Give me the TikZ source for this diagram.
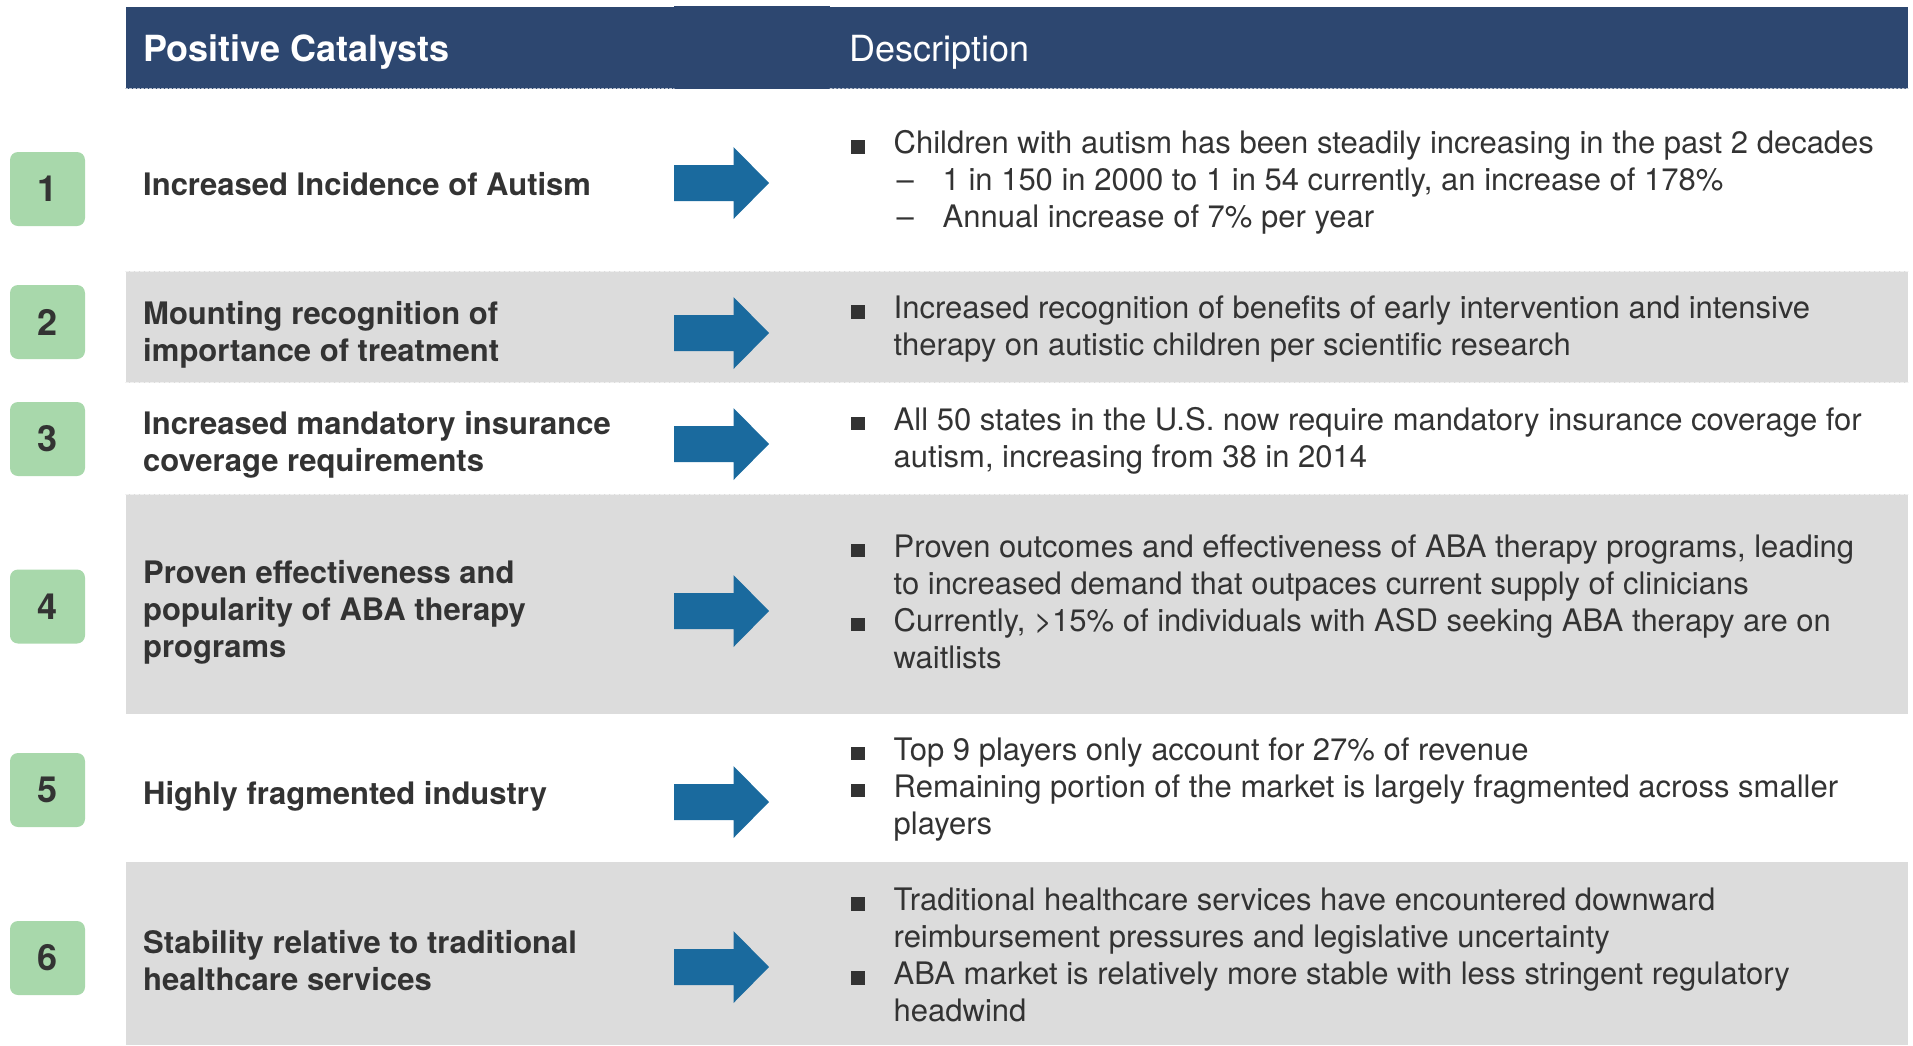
\documentclass[tikz,border=0pt]{standalone}
\usepackage{fontspec}
\setmainfont{TeX Gyre Heros}
\definecolor{navy}{HTML}{2D4770}
\definecolor{arrowblue}{HTML}{1A6A9E}
\definecolor{numgreen}{HTML}{A8D8AB}
\definecolor{rowgray}{HTML}{DCDCDC}
\definecolor{ink}{HTML}{333333}
\newcommand{\bul}{\makebox[43pt][l]{\rule{14pt}{13.5pt}}}
\newcommand{\subdash}{\hspace*{46pt}\makebox[46pt][l]{--}}
\newcommand{\cont}{\hspace*{43pt}}
\begin{document}
\begin{tikzpicture}[x=1pt,y=-1pt,line join=round,line cap=round,
	numbox/.style={fill=numgreen,rounded corners=8pt,minimum width=75pt,minimum height=74pt,inner sep=0pt,text=ink,font=\fontsize{36}{40}\selectfont\bfseries},
	catlabel/.style={anchor=base west,inner sep=0pt,align=left,text=ink,font=\fontsize{31}{37}\selectfont\bfseries},
	desctext/.style={anchor=base west,inner sep=0pt,align=left,text=ink,font=\fontsize{31}{37}\selectfont}]
	\def\L{125.5}
	\def\R{1908}
	\useasboundingbox (0,0) rectangle (1913,1045);
	%Vẽ tiêu đề
	\fill[navy] (\L,7) rectangle (\R,89);
	\fill[navy] (674,5.5) rectangle (830,89);
	\draw[white!70!navy,dash pattern=on 2pt off 2pt,line width=1pt] (\L,88.5)--(674,88.5) (830,88.5)--(\R,88.5);
	\node[anchor=base west,inner sep=0pt,text=white,font=\fontsize{36}{40}\selectfont\bfseries] (hcat) at (143,61) {Positive Catalysts};
	\node[anchor=base west,inner sep=0pt,text=white,font=\fontsize{36}{40}\selectfont] (hdesc) at (849,61) {Description};
	%Vẽ các hàng xám
	\fill[rowgray] (\L,271) rectangle (\R,382.5);
	\fill[rowgray] (\L,494) rectangle (\R,713.5);
	\fill[rowgray] (\L,862) rectangle (\R,1045);
	\foreach \y in {271,382.5,494}
	\draw[white!60!rowgray,dash pattern=on 3pt off 2pt,line width=1pt] (\L,\y)--(\R,\y);
	%Vẽ các số
	\foreach \n/\y in {1/189,2/322,3/439,4/606.5,5/790,6/958}
	\node[numbox] (num\n) at (47.5,\y) {\n};
	%Vẽ các mũi tên
	\foreach \y in {183,333,444,611,802,967}
	\fill[arrowblue] (674,\y-18) -- (733.5,\y-18) -- (733.5,\y-36) -- (769,\y) -- (733.5,\y+36) -- (733.5,\y+18) -- (674,\y+18) -- cycle;
	%Các yếu tố (base = dòng cuối)
	\node[catlabel] (cat1) at (143,195) {Increased Incidence of Autism};
	\node[catlabel] (cat2) at (143,361) {Mounting recognition of\\importance of treatment};
	\node[catlabel] (cat3) at (143,471.5) {Increased mandatory insurance\\coverage requirements};
	\node[catlabel] (cat4) at (143,657) {Proven effectiveness and\\popularity of ABA therapy\\programs};
	\node[catlabel] (cat5) at (143,804) {Highly fragmented industry};
	\node[catlabel] (cat6) at (143,990) {Stability relative to traditional\\healthcare services};
	%Mô tả
	\node[desctext] (desc1) at (850.5,227.7) {\bul Children with autism has been steadily increasing in the past 2 decades\\
		\subdash 1 in 150 in 2000 to 1 in 54 currently, an increase of 178\%\\
		\subdash Annual increase of 7\% per year};
	\node[desctext] (desc2) at (850.5,355.7) {\bul Increased recognition of benefits of early intervention and intensive\\
		\cont therapy on autistic children per scientific research};
	\node[desctext] (desc3) at (850.5,467.3) {\bul All 50 states in the U.S. now require mandatory insurance coverage for\\
		\cont autism, increasing from 38 in 2014};
	\node[desctext] (desc4) at (850.5,668.3) {\bul Proven outcomes and effectiveness of ABA therapy programs, leading\\
		\cont to increased demand that outpaces current supply of clinicians\\
		\bul Currently, >15\% of individuals with ASD seeking ABA therapy are on\\
		\cont waitlists};
	\node[desctext] (desc5) at (850.5,834) {\bul Top 9 players only account for 27\% of revenue\\
		\bul Remaining portion of the market is largely fragmented across smaller\\
		\cont players};
	\node[desctext] (desc6) at (850.5,1021.7) {\bul Traditional healthcare services have encountered downward\\
		\cont reimbursement pressures and legislative uncertainty\\
		\bul ABA market is relatively more stable with less stringent regulatory\\
		\cont headwind};
\end{tikzpicture}
\end{document}
